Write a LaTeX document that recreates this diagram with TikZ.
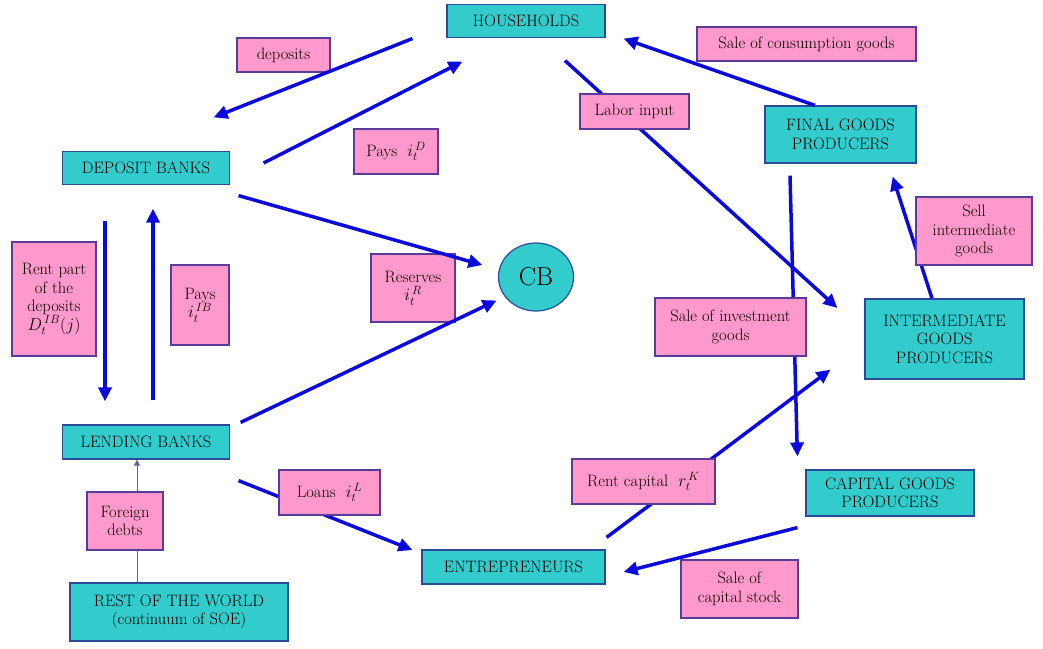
\documentclass[tikz,border=0pt]{standalone}
\usepackage{amsmath}
\usepackage{fontspec}
\usetikzlibrary{arrows.meta,positioning,shapes.geometric}
\definecolor{agentfill}{HTML}{33CCCC}
\definecolor{agentline}{HTML}{2B4A9A}
\definecolor{tagfill}{HTML}{FF99CC}
\definecolor{tagline}{HTML}{5A3A9A}
\definecolor{flowblue}{HTML}{0A0ADC}
\definecolor{debtline}{HTML}{6060A8}

\begin{document}
\begin{tikzpicture}[ x=1pt , y=-1pt , font=\fontsize{16.5}{18.5}\selectfont ,
agent/.style = { draw=agentline , fill=agentfill , line width=1.2pt , align=center , inner sep=1pt } ,
tag/.style = { draw=tagline , fill=tagfill , line width=1.2pt , align=center , inner sep=1pt } ,
sz/.style 2 args = { minimum width=#1pt , minimum height=#2pt } ,
flow/.style = { color=flowblue , line width=3.5pt , -{Triangle[length=14pt , width=13pt]} } ,
debt/.style = { color=debtline , line width=1pt , -{Triangle[length=6pt , width=6pt]} } ]
\useasboundingbox (0,0) rectangle (1043,648);

% agents
\node [ agent , sz={158}{33} ] (hh) at (526,21) {HOUSEHOLDS};
\node [ agent , sz={167}{33} ] (db) at (146,168) {DEPOSIT BANKS};
\node [ agent , sz={167}{34} ] (lb) at (146,442) {LENDING BANKS};
\node [ agent , sz={218}{58} ] (row) at (179,612) {REST OF THE WORLD\\(continuum of SOE)};
\node [ agent , sz={183}{34} ] (ent) at (513.5,567) {ENTREPRENEURS};
\node [ agent , sz={168}{46} ] (cgp) at (890,493) {CAPITAL GOODS\\PRODUCERS};
\node [ agent , sz={159}{80} ] (igp) at (944.5,339) {INTERMEDIATE\\GOODS\\PRODUCERS};
\node [ agent , sz={151}{57} ] (fgp) at (840.5,134.5) {FINAL GOODS\\PRODUCERS};
\node [ agent , ellipse , inner sep=0pt , sz={75}{68} , font=\fontsize{26}{28}\selectfont ] (cb) at (536,277) {CB};

% flows
\path [ flow ]
([shift={(33.5,-5)}]db.east) edge ([shift={(16,23.5)}]hh.south west)
([shift={(-25.5,0)}]fgp.north) edge ([shift={(18,0.5)}]hh.south east)
([shift={(39,22.5)}]hh.south) edge ([shift={(-27,-31)}]igp.west)
([shift={(-50.5,12)}]fgp.south) edge ([shift={(-8,-13)}]cgp.north west)
([shift={(-12.5,0)}]igp.north) edge ([shift={(-24,13)}]fgp.south east)
([shift={(1,-12)}]ent.north east) edge ([shift={(-34,-10)}]igp.south west)
([shift={(-8,11)}]cgp.south west) edge ([shift={(18,5)}]ent.east)
([shift={(8.5,21)}]lb.south east) edge ([shift={(-9,-17)}]ent.west)
([shift={(-41,35.5)}]db.south) edge ([shift={(-41,-23)}]lb.north)
([shift={(7,-24)}]lb.north) edge ([shift={(7,23.5)}]db.south);
\path [ debt ] ([shift={(-42,0)}]row.north) edge ([shift={(-9,0)}]lb.south);

% labels
\node [ tag , sz={93}{34} ] (dep) at (283.5,55) {deposits};
\node [ tag , sz={84}{45} ] (paysD) at (396,151.5) {Pays \ $i_t^{\,D}$};
\node [ tag , sz={219}{34} ] (cons) at (806.5,44) {Sale of consumption goods};
\node [ tag , sz={109}{35} ] (labor) at (634.5,111.5) {Labor input};
\node [ tag , sz={116}{68} ] (sell) at (974,231) {Sell\\intermediate\\goods};
\node [ tag , sz={151}{58} ] (inv) at (730.5,327) {Sale of investment\\goods};
\node [ tag , sz={84}{68} ] (res) at (413,288) {Reserves\\$i_t^{\,R}$};
\node [ tag , sz={58}{80} ] (paysIB) at (200,305) {Pays\\$i_t^{\,IB}$};
\node [ tag , sz={84}{114} ] (rent) at (54,299) {Rent part\\of the\\deposits\\$D_t^{\,IB}(j)$};
\node [ tag , sz={76}{58} ] (fdebt) at (125,521) {Foreign\\debts};
\node [ tag , sz={101}{45} ] (loans) at (329.5,492.5) {Loans \ $i_t^{\,L}$};
\node [ tag , sz={143}{45} ] (rentK) at (643.5,481.5) {Rent capital \ $r_t^{\,K}$};
\node [ tag , sz={117}{58} ] (stock) at (739.5,589) {Sale of\\capital stock};

% flows over the label corners
\path [ flow ]
([shift={(-34,0.5)}]hh.south west) edge ([shift={(-16.5,-33.5)}]db.north east)
([shift={(8.5,10.5)}]db.south east) edge ([shift={(-15.5,-12)}]cb.west)
([shift={(10.5,-2)}]lb.north east) edge ([shift={(-12.5,-1)}]cb.south west);
\end{tikzpicture}
\end{document}
